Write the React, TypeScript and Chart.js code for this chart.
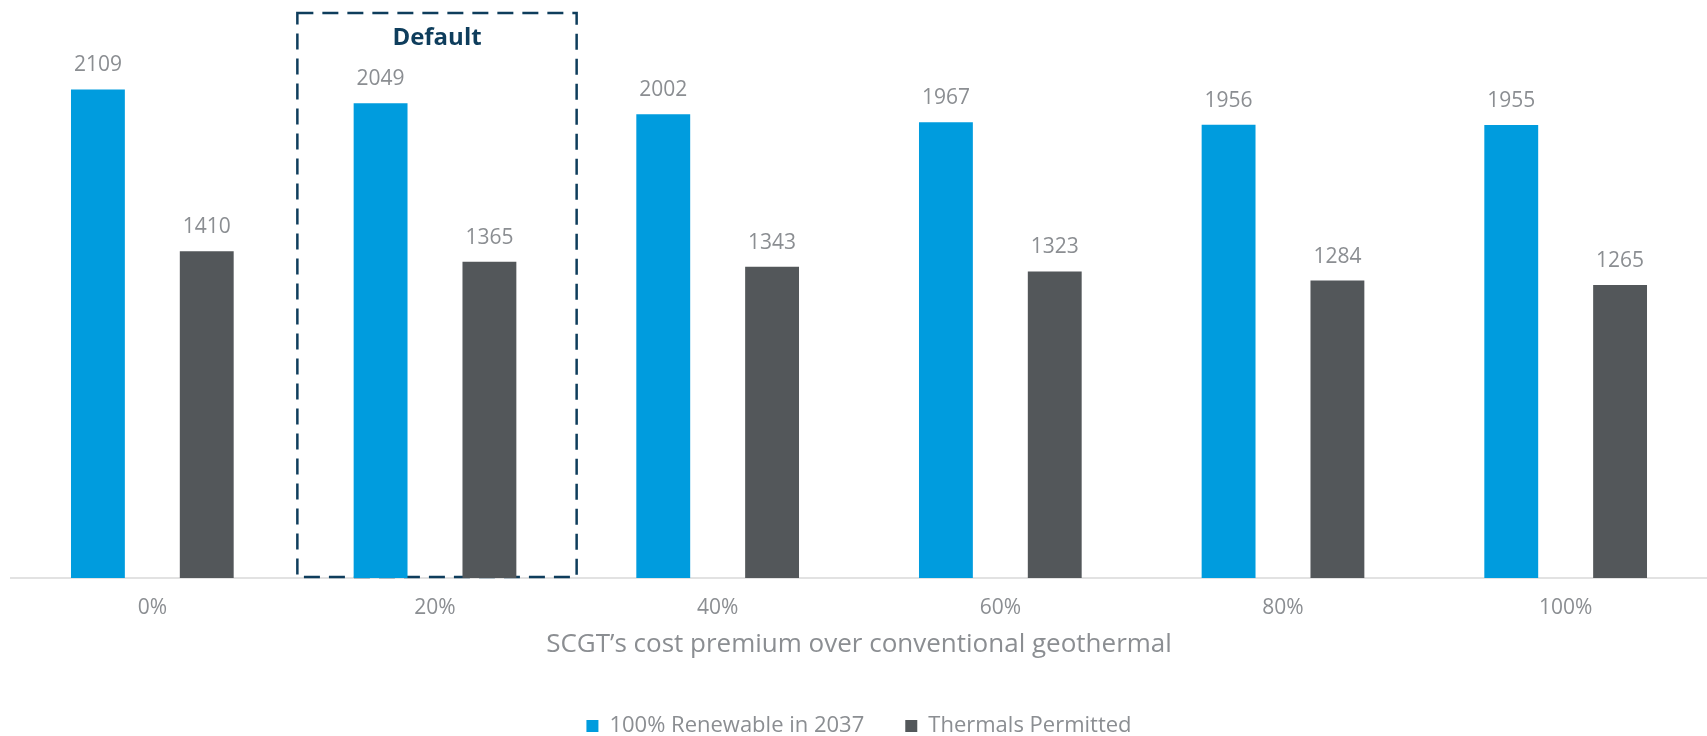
import React, { useEffect, useRef } from "react";
import { Chart, registerables } from "chart.js";

Chart.register(...registerables);

const categories = ["0%", "20%", "40%", "60%", "80%", "100%"];
const renewableValues = [2109, 2049, 2002, 1967, 1956, 1955];
const thermalValues = [1410, 1365, 1343, 1323, 1284, 1265];
const seriesNames = ["100% Renewable in 2037", "Thermals Permitted"];
const xAxisTitle = "SCGT\u2019s cost premium over conventional geothermal";
const highlightIndex = 1;
const highlightLabel = "Default";

const BLUE = "#009CDE";
const GREY = "#53575A";
const NAVY = "#0E3D5C";
const TEXT = "#8B8E92";
const FONT = "'Open Sans', sans-serif";

const valueLabelPlugin = {
  id: "valueLabels",
  afterDatasetsDraw(chart: any) {
    const ctx = chart.ctx;
    ctx.save();
    ctx.font = `21px ${FONT}`;
    ctx.fillStyle = TEXT;
    ctx.textAlign = "center";
    ctx.textBaseline = "middle";
    chart.data.datasets.forEach((ds: any, i: number) => {
      const meta = chart.getDatasetMeta(i);
      meta.data.forEach((el: any, j: number) => {
        ctx.fillText(String(ds.data[j]), el.x, el.y - 24);
      });
    });
    ctx.restore();
  },
};

const highlightPlugin = {
  id: "highlightBox",
  beforeDatasetsDraw(chart: any) {
    const ctx = chart.ctx;
    const x = chart.scales.x;
    const { top, bottom } = chart.chartArea;
    const cx = x.getPixelForValue(highlightIndex) + 2;
    const step = x.getPixelForValue(1) - x.getPixelForValue(0);
    const half = step * 0.494;
    ctx.save();
    ctx.strokeStyle = NAVY;
    ctx.lineWidth = 2.5;
    ctx.setLineDash([16, 9]);
    ctx.strokeRect(cx - half, top - 9, half * 2, bottom - 1 - (top - 9));
    ctx.setLineDash([]);
    ctx.fillStyle = NAVY;
    ctx.font = `bold 24px ${FONT}`;
    ctx.textAlign = "center";
    ctx.textBaseline = "middle";
    ctx.fillText(highlightLabel, cx, top + 16);
    ctx.restore();
  },
};

export default function App() {
  const ref = useRef<HTMLCanvasElement | null>(null);
  useEffect(() => {
    if (!ref.current) return;
    const chart = new Chart(ref.current, {
      type: "bar",
      data: {
        labels: categories,
        datasets: [
          { label: seriesNames[0], data: renewableValues, backgroundColor: BLUE, categoryPercentage: 0.77, barPercentage: 0.495 },
          { label: seriesNames[1], data: thermalValues, backgroundColor: GREY, categoryPercentage: 0.77, barPercentage: 0.495 },
        ],
      },
      options: {
        responsive: false,
        animation: false,
        layout: { padding: { top: 22, left: 11, right: 0, bottom: 0 } },
        plugins: {
          tooltip: { enabled: false },
          legend: {
            position: "bottom",
            labels: {
              boxWidth: 12,
              boxHeight: 12,
              padding: 41,
              color: TEXT,
              font: { family: FONT, size: 22 },
            },
          },
        },
        scales: {
          x: {
            grid: { display: false, drawTicks: false },
            border: { display: true, color: "#E2E2E2", width: 2 },
            ticks: { color: TEXT, padding: 20, font: { family: FONT, size: 21, lineHeight: 1 } },
            title: {
              display: true,
              text: xAxisTitle,
              color: TEXT,
              font: { family: FONT, size: 26, lineHeight: 1 },
              padding: { top: -7, bottom: 16 },
            },
          },
          y: { display: false, min: 0, max: 2400 },
        },
      },
      plugins: [highlightPlugin, valueLabelPlugin],
    });
    return () => chart.destroy();
  }, []);
  return (
    <div style={{ position: "fixed", left: 0, top: 0, width: "100vw", height: "100vh", overflow: "hidden", background: "#fff" }}>
      <canvas ref={ref} width={1707} height={747} style={{ display: "block", width: 1707, height: 747 }} />
    </div>
  );
}
